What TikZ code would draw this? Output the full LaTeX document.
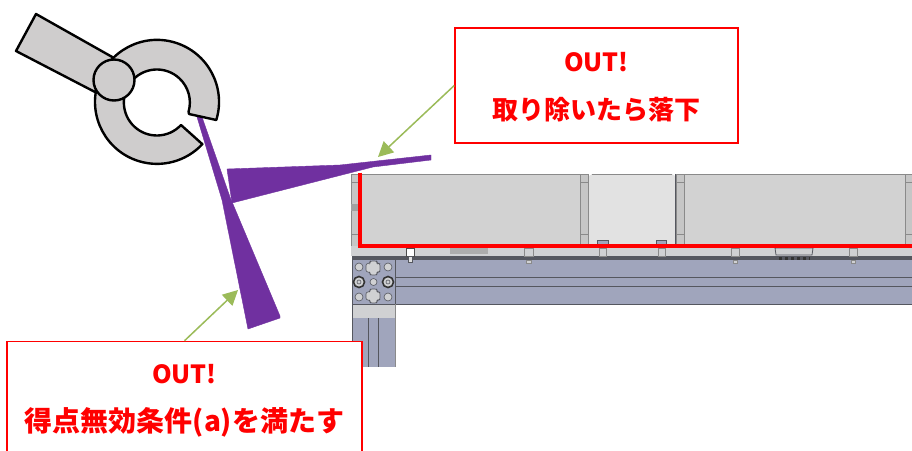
\documentclass[tikz,border=0pt]{standalone}
\usepackage{fontspec}
\usetikzlibrary{arrows.meta}
\newfontfamily\outfont{Noto Sans CJK JP}
\newcommand{\outword}{\rule{0pt}{23.5pt}\fontsize{25}{48}\selectfont OUT!}
\definecolor{gripgray}{HTML}{CFCDCD}
\definecolor{partpurple}{HTML}{7030A0}
\definecolor{leadgreen}{HTML}{9BBB59}
\definecolor{railblue}{HTML}{A0A5BC}
\definecolor{panelgray}{HTML}{D2D2D2}
\definecolor{panellight}{HTML}{E2E2E2}
\definecolor{bandgray}{HTML}{D0D1D3}
\definecolor{edgegray}{HTML}{8A8A8A}
\definecolor{edgedark}{HTML}{55575F}
\tikzset{
  gripline/.style={draw=black,fill=gripgray,line width=2.4pt,line join=round},
  part/.style={fill=partpurple,draw=partpurple,line width=0.4pt,line join=round},
  lead/.style={draw=leadgreen,line width=1.5pt,-{Triangle[length=15pt,width=15pt]}},
  outbox/.style={draw=red,fill=white,line width=1.5pt,text=red,align=center,inner sep=0pt,
    minimum height=115pt,font=\outfont\bfseries\fontsize{26}{48}\selectfont},
  post/.style={fill=panelgray!85!gray,draw=edgegray,line width=0.8pt},
  pin/.style={fill=bandgray,draw=edgegray,line width=0.7pt},
  bolt/.style={fill=panellight,draw=edgedark,line width=0.7pt},
  hole/.style={circle,fill=bandgray,draw=edgedark,line width=0.6pt,minimum size=8pt,inner sep=0pt},
  nut/.style={circle,fill=bandgray,draw=black!80,line width=1.6pt,minimum size=11pt,inner sep=0pt},
  slot/.style={rounded corners=2pt,fill=bandgray,draw=edgedark,line width=0.6pt}
}

\begin{document}
\begin{tikzpicture}[x=1pt,y=-1pt]
  \clip (0,0) rectangle (912,450);
  \fill[white] (0,0) rectangle (912,450);

  \begin{scope}
    \fill[panelgray] (361,174) rectangle (580,246);
    \fill[panellight] (589,176) -- (592,174) -- (672,174) -- (675,176) -- (675,246) -- (589,246) -- cycle;
    \fill[panelgray] (684,174) rectangle (905,246);
    \draw[edgegray,line width=1pt] (361,174) -- (580,174) (592,174) -- (672,174) (684,174) -- (905,174);
    \draw[post] (351,174) rectangle (361,246);
    \draw[post] (580,174) rectangle (588,246);
    \draw[post] (676,174) rectangle (684,246);
    \draw[post] (905,174) rectangle (914,246);
    \draw[edgegray,line width=0.8pt] (351,182) -- (361,182) (351,234) -- (361,234);
    \draw[edgegray,line width=0.8pt] (580,182) -- (588,182) (580,234) -- (588,234);
    \draw[edgegray,line width=0.8pt] (676,182) -- (684,182) (676,234) -- (684,234);
    \draw[edgegray,line width=0.8pt] (905,182) -- (914,182) (905,234) -- (914,234);
    \fill[edgegray!80] (351,204) rectangle (361,211);
    \draw[edgedark,line width=1pt] (675.5,174) -- (675.5,246);
  \end{scope}

  \fill[bandgray] (351,246) rectangle (912,256);
  \fill[edgedark] (352,256) rectangle (912,260.5);
  \fill[railblue] (352,260) rectangle (912,304);
  \fill[bandgray] (352,304) rectangle (395,318);
  \fill[railblue] (352,318) rectangle (395,367);
  \draw[edgedark,line width=0.8pt] (395,260) -- (395,304) (395,277) -- (912,277) (395,286.5) -- (912,286.5);
  \draw[edgedark,line width=1pt] (352,304) -- (912,304);
  \draw[edgedark,line width=0.8pt] (352,260) -- (352,367) (368.5,318) -- (368.5,367) (378,318) -- (378,367);
  \draw[edgegray,line width=0.6pt] (395,304) -- (395,367);

  \node (holeA) [hole] at (359,267) {};
  \node (holeB) [hole] at (388,267) {};
  \node (holeC) [hole] at (359,297) {};
  \node (holeD) [hole] at (388,297) {};
  \node (holeE) [hole,minimum size=7pt] at (373.5,282) {};
  \node (nutA) [nut] at (359,282) {};
  \node (nutB) [nut] at (388,282) {};
  \node (nutC) [hole,minimum size=4pt] at (359,282) {};
  \node (nutD) [hole,minimum size=4pt] at (388,282) {};
  \draw[slot] (370,261) -- (377,261) -- (377,263.5) -- (380,263.5) -- (380,272) -- (377,272) -- (377,275) -- (370,275) -- (370,272) -- (366,272) -- (366,263.5) -- (370,263.5) -- cycle;
  \draw[slot] (370,289) -- (377,289) -- (377,292) -- (380,292) -- (380,300) -- (377,300) -- (377,303) -- (370,303) -- (370,300) -- (366,300) -- (366,292) -- (370,292) -- cycle;

  \draw[bolt,fill=white,draw=black!70] (406,248) rectangle (414,256);
  \draw[bolt] (408,256) rectangle (412,262);
  \draw[pin] (524,248) rectangle (533,256);
  \draw[pin] (526,260) rectangle (531,263);
  \fill[edgegray!70] (450,248) rectangle (488,254);
  \draw[pin] (599,248) rectangle (606,256);
  \draw[pin] (658,248) rectangle (665,256);
  \draw[pin] (731,248) rectangle (739,256);
  \draw[pin] (733,260) rectangle (737,263);
  \draw[pin] (849,248) rectangle (857,256);
  \draw[pin] (851,260) rectangle (855,263);
  \draw[edgedark,fill=bandgray,line width=0.8pt] (775,248) -- (813,248) -- (812,255) -- (776,255) -- cycle;
  \draw[black!80,line width=3pt,dash pattern=on 3pt off 3pt] (779,258) -- (810,258);
  \draw[edgedark,fill=railblue,line width=1pt] (597,245) -- (597,240) -- (608,240) -- (608,245);
  \draw[edgedark,fill=railblue,line width=1pt] (656,245) -- (656,240) -- (666,240) -- (666,245);

  \draw[red,line width=4.3pt] (360,172.5) -- (360,245.7) -- (912,245.7);

  \draw[part] (197,117) -- (202,117) -- (230,197) -- (280,316) -- (280,318) -- (248,329) -- (222,200) -- cycle;
  \draw[part] (227,169) -- (340,165) -- (431,155) -- (431,160) -- (373,167) -- (232,203) -- cycle;

  \draw[gripline] (36,14) -- (114,58) -- (95,92) -- (16,51) -- cycle;
  \draw[gripline] (216.3,120) arc (17:-317:62) -- (181,125) arc (43:376:33) -- (189,114) -- cycle;
  \node (pivot) [circle,gripline,minimum size=41pt,inner sep=0pt] at (114,80) {};

  \node (outdrop) [outbox,minimum width=283pt] at (596.5,85.5) {\outword\\取り除いたら落下};
  \node (outcond) [outbox,minimum width=355pt] at (184.5,399) {\outword\\\fontsize{28}{48}\selectfont 得点無効条件(a)を満たす};

  \coordinate (droptip) at (378,157);
  \coordinate (condtip) at (238,290);
  \draw[lead] (outdrop.west) -- (droptip);
  \draw[lead] (outcond.north) -- (condtip);
\end{tikzpicture}
\end{document}
